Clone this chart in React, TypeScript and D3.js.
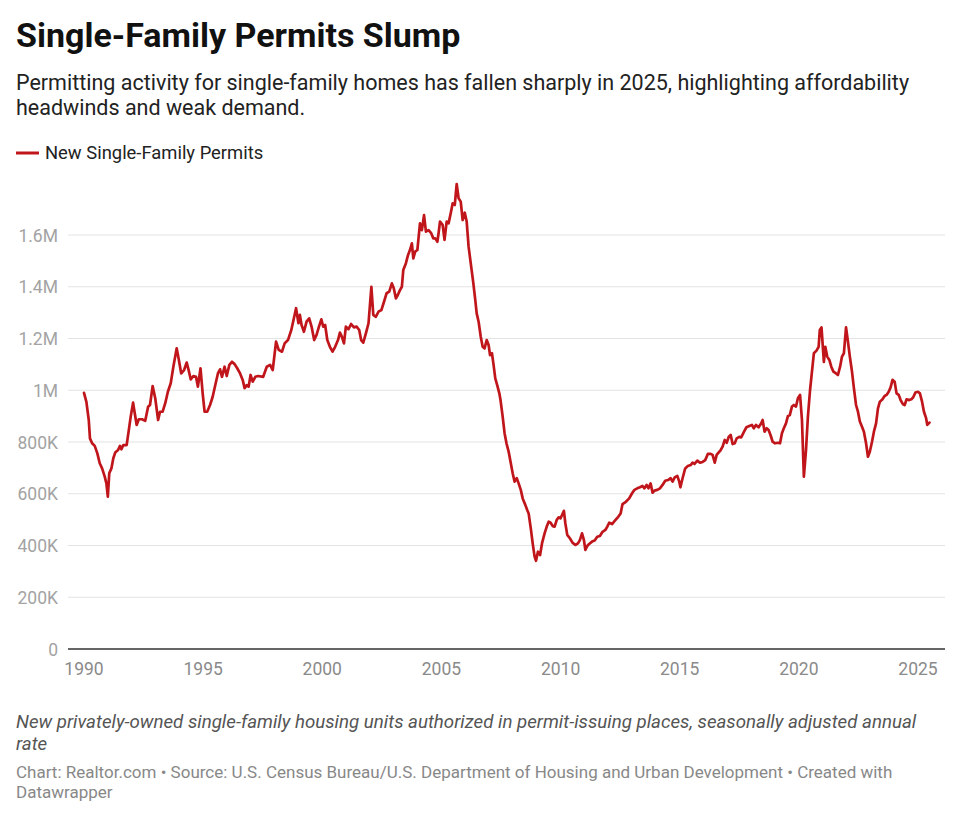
import React from "react";
import * as d3 from "d3";

// [decimal year, permits in thousands (SAAR)]
const permits1990s: [number, number][] = [
  [1990.0, 990], [1990.1, 955], [1990.2, 885], [1990.25, 814], [1990.34, 795], [1990.45, 785],
  [1990.56, 756], [1990.66, 718], [1990.76, 698], [1990.87, 666], [1990.94, 640], [1991.0, 589],
  [1991.06, 679], [1991.15, 698], [1991.23, 737], [1991.31, 759], [1991.43, 769], [1991.51, 785],
  [1991.57, 772], [1991.65, 788], [1991.79, 788], [1991.88, 846], [1991.96, 898], [1992.06, 952],
  [1992.13, 911], [1992.21, 866], [1992.3, 888], [1992.43, 888], [1992.57, 882], [1992.69, 936],
  [1992.77, 943], [1992.88, 1016], [1992.99, 969], [1993.11, 885], [1993.19, 917], [1993.3, 917],
  [1993.41, 950], [1993.52, 994], [1993.64, 1027], [1993.75, 1091], [1993.89, 1162], [1993.97, 1123],
  [1994.08, 1065], [1994.2, 1078], [1994.31, 1107], [1994.39, 1078], [1994.48, 1042], [1994.59, 1055],
  [1994.7, 1052], [1994.78, 1014], [1994.89, 1085], [1994.98, 988], [1995.06, 917], [1995.17, 917],
  [1995.29, 943], [1995.4, 975], [1995.51, 1020], [1995.62, 1065], [1995.71, 1081], [1995.79, 1052],
  [1995.9, 1091], [1995.99, 1055], [1996.1, 1098], [1996.21, 1110], [1996.32, 1101], [1996.43, 1085],
  [1996.55, 1065], [1996.66, 1040], [1996.74, 1008], [1996.83, 1020], [1996.91, 1014], [1996.99, 1059],
  [1997.08, 1033], [1997.19, 1052], [1997.31, 1055], [1997.52, 1052], [1997.67, 1091], [1997.81, 1098],
  [1997.92, 1078], [1998.06, 1188], [1998.17, 1156], [1998.31, 1149], [1998.42, 1181], [1998.56, 1194],
  [1998.7, 1233], [1998.9, 1317], [1999.0, 1259], [1999.06, 1291], [1999.13, 1252], [1999.23, 1226],
  [1999.34, 1265], [1999.45, 1278], [1999.55, 1246], [1999.66, 1194], [1999.76, 1214], [1999.86, 1246],
  [1999.96, 1274],
];

const permits2000s: [number, number][] = [
  [2000.04, 1246], [2000.12, 1252], [2000.21, 1194], [2000.32, 1168], [2000.43, 1149], [2000.54, 1168],
  [2000.66, 1194], [2000.74, 1223], [2000.82, 1207], [2000.91, 1181], [2000.99, 1246], [2001.1, 1236],
  [2001.21, 1256], [2001.33, 1243], [2001.44, 1246], [2001.55, 1233], [2001.63, 1194], [2001.72, 1184],
  [2001.83, 1220], [2001.94, 1259], [2002.06, 1400], [2002.14, 1291], [2002.25, 1284], [2002.36, 1304],
  [2002.48, 1310], [2002.59, 1342], [2002.7, 1375], [2002.81, 1381], [2002.92, 1413], [2003.0, 1394],
  [2003.09, 1355], [2003.17, 1368], [2003.26, 1387], [2003.34, 1400], [2003.4, 1465], [2003.51, 1491],
  [2003.6, 1523], [2003.68, 1542], [2003.76, 1568], [2003.82, 1510], [2003.9, 1536], [2003.99, 1542],
  [2004.1, 1645], [2004.18, 1619], [2004.27, 1677], [2004.35, 1613], [2004.46, 1619], [2004.57, 1607],
  [2004.66, 1587], [2004.74, 1587], [2004.83, 1574], [2004.88, 1607], [2004.94, 1652], [2005.05, 1639],
  [2005.13, 1581], [2005.22, 1652], [2005.3, 1645], [2005.39, 1684], [2005.47, 1722], [2005.56, 1716],
  [2005.64, 1797], [2005.72, 1742], [2005.81, 1729], [2005.89, 1658], [2005.98, 1686], [2006.06, 1652],
  [2006.14, 1555], [2006.25, 1477], [2006.34, 1413], [2006.42, 1349], [2006.48, 1297], [2006.56, 1265],
  [2006.65, 1207], [2006.73, 1168], [2006.81, 1162], [2006.9, 1194], [2006.98, 1175], [2007.04, 1136],
  [2007.12, 1143], [2007.18, 1104], [2007.26, 1046], [2007.34, 1020], [2007.43, 988], [2007.48, 962],
  [2007.57, 898], [2007.65, 834], [2007.73, 795], [2007.82, 763], [2007.9, 724], [2007.99, 679],
  [2008.07, 647], [2008.16, 660], [2008.24, 640], [2008.33, 615], [2008.41, 582], [2008.52, 557],
  [2008.6, 537], [2008.66, 524], [2008.75, 466], [2008.83, 408], [2008.91, 357], [2008.97, 341],
  [2009.05, 376], [2009.14, 363], [2009.22, 408], [2009.33, 447], [2009.42, 473], [2009.5, 492],
  [2009.58, 488], [2009.67, 475], [2009.75, 473], [2009.84, 499], [2009.92, 509],
];

const permits2010s: [number, number][] = [
  [2010.0, 505], [2010.09, 524], [2010.14, 534], [2010.2, 486], [2010.28, 441], [2010.39, 428],
  [2010.5, 411], [2010.62, 402], [2010.73, 408], [2010.81, 421], [2010.9, 447], [2010.98, 421],
  [2011.04, 383], [2011.12, 398], [2011.2, 406], [2011.32, 415], [2011.43, 419], [2011.54, 434],
  [2011.65, 437], [2011.76, 453], [2011.88, 460], [2011.96, 473], [2012.04, 488], [2012.16, 483],
  [2012.28, 496], [2012.42, 511], [2012.52, 524], [2012.6, 560], [2012.74, 569], [2012.88, 582],
  [2013.0, 602], [2013.1, 615], [2013.22, 621], [2013.33, 625], [2013.44, 630], [2013.52, 621],
  [2013.61, 634], [2013.69, 621], [2013.78, 640], [2013.86, 604], [2013.94, 612], [2014.06, 615],
  [2014.17, 621], [2014.28, 634], [2014.39, 650], [2014.51, 653], [2014.62, 660], [2014.7, 647],
  [2014.79, 663], [2014.9, 669], [2014.98, 647], [2015.03, 625], [2015.12, 660], [2015.23, 698],
  [2015.34, 707], [2015.46, 711], [2015.54, 720], [2015.62, 715], [2015.74, 728], [2015.85, 720],
  [2015.96, 723], [2016.07, 730], [2016.18, 754], [2016.3, 754], [2016.38, 750], [2016.47, 720],
  [2016.55, 750], [2016.63, 759], [2016.72, 769], [2016.8, 782], [2016.89, 808], [2016.97, 797],
  [2017.06, 820], [2017.14, 827], [2017.22, 792], [2017.31, 795], [2017.39, 814], [2017.5, 820],
  [2017.58, 818], [2017.7, 840], [2017.8, 857], [2017.92, 862], [2018.03, 866], [2018.11, 853],
  [2018.2, 866], [2018.31, 857], [2018.42, 872], [2018.48, 885], [2018.56, 840], [2018.65, 853],
  [2018.73, 846], [2018.81, 827], [2018.9, 801], [2019.0, 795], [2019.12, 797], [2019.21, 795],
  [2019.29, 834], [2019.37, 853], [2019.46, 872], [2019.54, 900], [2019.62, 904], [2019.71, 937],
  [2019.79, 943], [2019.88, 937], [2019.96, 969],
];

const permits2020s: [number, number][] = [
  [2020.05, 982], [2020.13, 885], [2020.21, 666], [2020.3, 769], [2020.38, 898], [2020.47, 1001],
  [2020.55, 1072], [2020.63, 1143], [2020.74, 1153], [2020.83, 1168], [2020.88, 1233], [2020.95, 1243],
  [2021.05, 1110], [2021.11, 1168], [2021.19, 1130], [2021.28, 1117], [2021.36, 1091], [2021.45, 1072],
  [2021.56, 1065], [2021.64, 1059], [2021.73, 1091], [2021.81, 1130], [2021.89, 1143], [2021.98, 1243],
  [2022.06, 1188], [2022.14, 1130], [2022.23, 1072], [2022.31, 1008], [2022.4, 943], [2022.48, 917],
  [2022.56, 879], [2022.65, 859], [2022.73, 840], [2022.82, 795], [2022.9, 743], [2022.98, 763],
  [2023.07, 801], [2023.15, 840], [2023.24, 872], [2023.32, 930], [2023.4, 956], [2023.51, 965],
  [2023.6, 978], [2023.68, 982], [2023.77, 994], [2023.85, 1011], [2023.93, 1040], [2024.02, 1033],
  [2024.1, 988], [2024.19, 982], [2024.27, 962], [2024.36, 947], [2024.44, 943], [2024.52, 965],
  [2024.63, 962], [2024.72, 965], [2024.8, 973], [2024.89, 991], [2025.0, 994], [2025.08, 988],
  [2025.17, 956], [2025.25, 917], [2025.34, 892], [2025.39, 866], [2025.48, 875],
];

const yTicks = [0, 200, 400, 600, 800, 1000, 1200, 1400, 1600];
const yTickLabels = ["0", "200K", "400K", "600K", "800K", "1M", "1.2M", "1.4M", "1.6M"];
const xTicks = [1990, 1995, 2000, 2005, 2010, 2015, 2020, 2025];

const title = "Single-Family Permits Slump";
const subtitleLines = [
  "Permitting activity for single-family homes has fallen sharply in 2025, highlighting affordability",
  "headwinds and weak demand.",
];
const legendLabel = "New Single-Family Permits";
const noteLines = [
  "New privately-owned single-family housing units authorized in permit-issuing places, seasonally adjusted annual",
  "rate",
];
const sourceLines = [
  "Chart: Realtor.com \u2022 Source: U.S. Census Bureau/U.S. Department of Housing and Urban Development \u2022 Created with",
  "Datawrapper",
];

const W = 960;
const H = 818;
const LINE_COLOR = "#c0161b";
const FONT = "Roboto, 'Noto Sans', sans-serif";

export default function App() {
  const data = [...permits1990s, ...permits2000s, ...permits2010s, ...permits2020s];
  const x = d3.scaleLinear().domain([1990, 2025]).range([84, 918]);
  const y = d3.scaleLinear().domain([0, 1600]).range([649, 235]);
  const gridLeft = 68;
  const gridRight = 945;
  const line = d3
    .line<[number, number]>()
    .x((d) => x(d[0]))
    .y((d) => y(d[1]));

  return (
    <svg
      width={W}
      height={H}
      viewBox={`0 0 ${W} ${H}`}
      style={{ position: "absolute", left: 0, top: 0, background: "#fff", fontFamily: FONT }}
    >
      <rect x={0} y={0} width={W} height={H} fill="#fff" />
      <text x={16} y={47} fontSize={34} fontWeight={700} fill="#111">
        {title}
      </text>
      {subtitleLines.map((t, i) => (
        <text key={i} x={16} y={90 + i * 25} fontSize={21.5} fill="#222">
          {t}
        </text>
      ))}
      <line x1={16} x2={39} y1={153} y2={153} stroke={LINE_COLOR} strokeWidth={3} />
      <text x={45} y={159} fontSize={18.4} fill="#222">
        {legendLabel}
      </text>

      {yTicks.map((t, i) => (
        <g key={t}>
          {t !== 0 && (
            <line x1={gridLeft} x2={gridRight} y1={y(t)} y2={y(t)} stroke="#e3e3e3" strokeWidth={1} />
          )}
          <text
            x={58}
            y={y(t) + 6.5}
            textAnchor="end"
            fontSize={17.5}
            fill="#a3a3a3"
          >
            {yTickLabels[i]}
          </text>
        </g>
      ))}
      <line x1={gridLeft} x2={gridRight} y1={y(0)} y2={y(0)} stroke="#333" strokeWidth={1.3} />
      {xTicks.map((t) => (
        <text key={t} x={x(t)} y={675} textAnchor="middle" fontSize={17.5} fill="#8a8a8a">
          {t}
        </text>
      ))}

      <path
        d={line(data) || ""}
        fill="none"
        stroke={LINE_COLOR}
        strokeWidth={2.7}
        strokeLinejoin="round"
        strokeLinecap="round"
      />

      {noteLines.map((t, i) => (
        <text key={i} x={16} y={728 + i * 22} fontSize={18.7} fontStyle="italic" fill="#555">
          {t}
        </text>
      ))}
      {sourceLines.map((t, i) => (
        <text key={i} x={16} y={778 + i * 20} fontSize={17} fill="#888">
          {t}
        </text>
      ))}
    </svg>
  );
}
